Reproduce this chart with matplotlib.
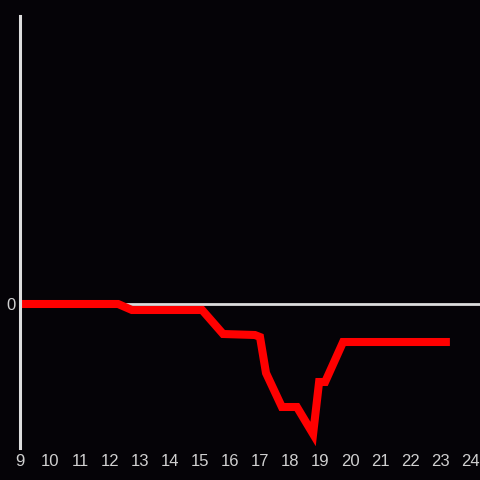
import matplotlib
matplotlib.use("Agg")
import matplotlib.pyplot as plt

# hour of day and value
hours = [9.0, 12.27, 12.73, 15.07, 15.77, 16.83, 17.0, 17.2, 17.73, 18.23,
         18.77, 18.97, 19.17, 19.77, 23.33]
values = [0, 0, -6, -6, -30, -31, -33, -69, -103, -103, -130, -78, -78, -38, -38]
xticks = list(range(9, 25))

bg = '#050307'
fig = plt.figure(figsize=(4.8, 4.8), dpi=100, facecolor=bg)
ax = fig.add_axes([20 / 480, 32 / 480, 460 / 480, 432 / 480], facecolor=bg)

ax.set_xlim(9, 24 + 10 / 30)
ax.set_ylim(-144, 288)

ax.axhline(0, color='#dddddd', lw=2, zorder=1)
ax.plot(hours, values, color='#ff0000', lw=5.8, solid_joinstyle='miter',
        solid_capstyle='butt', zorder=2)

for s in ['top', 'right', 'bottom']:
    ax.spines[s].set_visible(False)
ax.spines['left'].set_color('#dddddd')
ax.spines['left'].set_linewidth(2.2)

ax.set_xticks(xticks)
ax.set_xticklabels([str(h) for h in xticks])
ax.set_yticks([0])
ax.set_yticklabels(['0'])
ax.tick_params(colors='#d0d0d0', length=0, labelsize=12, pad=4)
for lbl in ax.get_xticklabels() + ax.get_yticklabels():
    lbl.set_family('Liberation Sans')
ax.tick_params(axis='y', pad=3)

fig.savefig('out.png', dpi=100, facecolor=bg)
